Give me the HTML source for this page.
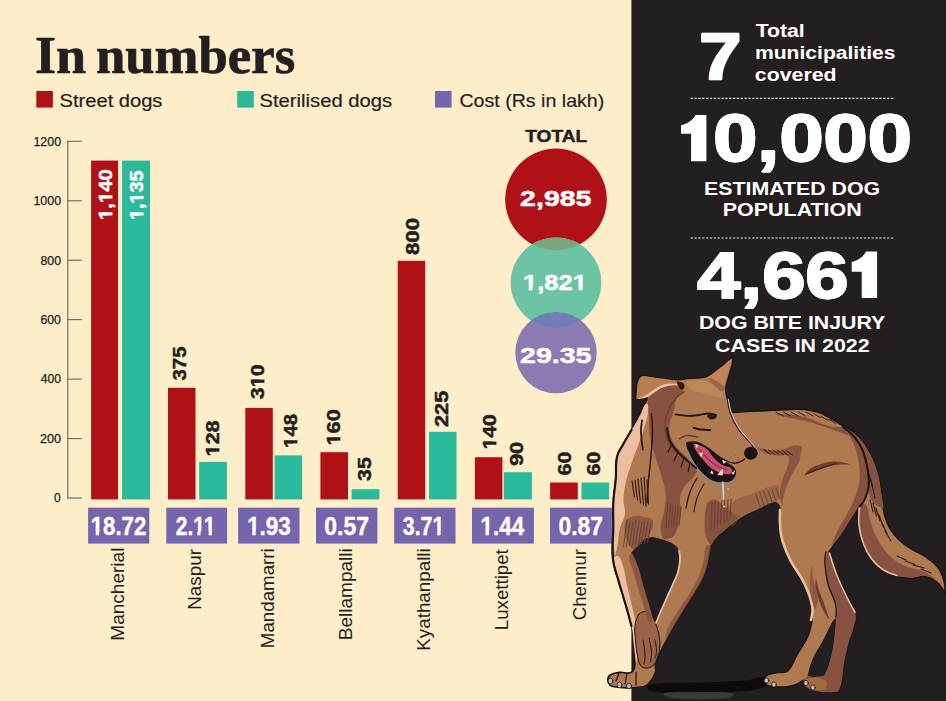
<!DOCTYPE html>
<html><head><meta charset="utf-8"><title>In numbers</title>
<style>
html,body{margin:0;padding:0;background:#feedc9;}
body{width:946px;height:701px;overflow:hidden;font-family:"Liberation Sans",sans-serif;}
svg{display:block;position:absolute;left:0;top:0;}
</style></head><body>
<svg width="946" height="701" viewBox="0 0 946 701">
<rect x="0" y="0" width="946" height="701" fill="#feedc9"/>
<rect x="631.4" y="0" width="315" height="701" fill="#231f20"/>
<text x="34.97" y="72.90" font-family='"Liberation Serif",serif' font-weight="bold" font-size="52.50" fill="#231f20" stroke="#231f20" stroke-width="0.70" stroke-linejoin="round" textLength="51.16" lengthAdjust="spacingAndGlyphs">In</text>
<text x="95.95" y="72.90" font-family='"Liberation Serif",serif' font-weight="bold" font-size="52.50" fill="#231f20" stroke="#231f20" stroke-width="0.70" stroke-linejoin="round" textLength="199.26" lengthAdjust="spacingAndGlyphs">numbers</text>
<rect x="36.3" y="91" width="16.6" height="16.6" fill="#b01117"/>
<rect x="237.2" y="91" width="16.6" height="16.6" fill="#2bb99b"/>
<rect x="435.0" y="91" width="16.6" height="16.6" fill="#7565ad"/>
<text x="59.58" y="107.40" font-family='"Liberation Sans",sans-serif' font-weight="normal" font-size="18.40" fill="#231f20" stroke="#231f20" stroke-width="0.20" stroke-linejoin="round" textLength="102.85" lengthAdjust="spacingAndGlyphs">Street dogs</text>
<text x="259.47" y="107.40" font-family='"Liberation Sans",sans-serif' font-weight="normal" font-size="18.40" fill="#231f20" stroke="#231f20" stroke-width="0.20" stroke-linejoin="round" textLength="132.72" lengthAdjust="spacingAndGlyphs">Sterilised dogs</text>
<text x="459.48" y="107.40" font-family='"Liberation Sans",sans-serif' font-weight="normal" font-size="18.40" fill="#231f20" stroke="#231f20" stroke-width="0.20" stroke-linejoin="round" textLength="144.79" lengthAdjust="spacingAndGlyphs">Cost (Rs in lakh)</text>
<path d="M67.8 140.8 V498.5" stroke="#6d6555" stroke-width="1.1" fill="none"/>
<path d="M67.3 498.0 H81.7" stroke="#6d6555" stroke-width="1.1" fill="none"/>
<text x="54.03" y="502.30" font-family='"Liberation Sans",sans-serif' font-weight="normal" font-size="12.00" fill="#231f20" stroke="#231f20" stroke-width="0.25" stroke-linejoin="round" textLength="6.67" lengthAdjust="spacingAndGlyphs">0</text>
<path d="M67.3 438.6 H81.7" stroke="#6d6555" stroke-width="1.1" fill="none"/>
<text x="40.01" y="442.85" font-family='"Liberation Sans",sans-serif' font-weight="normal" font-size="12.00" fill="#231f20" stroke="#231f20" stroke-width="0.25" stroke-linejoin="round" textLength="21.02" lengthAdjust="spacingAndGlyphs">200</text>
<path d="M67.3 379.1 H81.7" stroke="#6d6555" stroke-width="1.1" fill="none"/>
<text x="40.75" y="383.40" font-family='"Liberation Sans",sans-serif' font-weight="normal" font-size="12.00" fill="#231f20" stroke="#231f20" stroke-width="0.25" stroke-linejoin="round" textLength="20.24" lengthAdjust="spacingAndGlyphs">400</text>
<path d="M67.3 319.6 H81.7" stroke="#6d6555" stroke-width="1.1" fill="none"/>
<text x="40.45" y="323.95" font-family='"Liberation Sans",sans-serif' font-weight="normal" font-size="12.00" fill="#231f20" stroke="#231f20" stroke-width="0.25" stroke-linejoin="round" textLength="20.49" lengthAdjust="spacingAndGlyphs">600</text>
<path d="M67.3 260.2 H81.7" stroke="#6d6555" stroke-width="1.1" fill="none"/>
<text x="40.46" y="264.50" font-family='"Liberation Sans",sans-serif' font-weight="normal" font-size="12.00" fill="#231f20" stroke="#231f20" stroke-width="0.25" stroke-linejoin="round" textLength="20.58" lengthAdjust="spacingAndGlyphs">800</text>
<path d="M67.3 200.8 H81.7" stroke="#6d6555" stroke-width="1.1" fill="none"/>
<text x="33.44" y="205.05" font-family='"Liberation Sans",sans-serif' font-weight="normal" font-size="12.00" fill="#231f20" stroke="#231f20" stroke-width="0.25" stroke-linejoin="round" textLength="27.65" lengthAdjust="spacingAndGlyphs">1000</text>
<path d="M67.3 141.3 H81.7" stroke="#6d6555" stroke-width="1.1" fill="none"/>
<text x="33.44" y="145.60" font-family='"Liberation Sans",sans-serif' font-weight="normal" font-size="12.00" fill="#231f20" stroke="#231f20" stroke-width="0.25" stroke-linejoin="round" textLength="27.65" lengthAdjust="spacingAndGlyphs">1200</text>
<rect x="91.1" y="160.6" width="26.9" height="338.8" fill="#b01117"/>
<rect x="122.1" y="160.6" width="27.9" height="338.8" fill="#2bb99b"/>
<rect x="88.1" y="507.7" width="61.2" height="35.9" fill="#7565ad"/>
<rect x="168.0" y="387.8" width="27.5" height="111.6" fill="#b01117"/>
<rect x="199.2" y="461.9" width="27.7" height="37.5" fill="#2bb99b"/>
<rect x="166.3" y="507.7" width="60.8" height="35.9" fill="#7565ad"/>
<rect x="245.3" y="407.9" width="27.5" height="91.5" fill="#b01117"/>
<rect x="274.6" y="455.4" width="27.5" height="44.0" fill="#2bb99b"/>
<rect x="238.1" y="507.7" width="61.4" height="35.9" fill="#7565ad"/>
<rect x="320.4" y="452.2" width="27.6" height="47.2" fill="#b01117"/>
<rect x="351.6" y="489.2" width="27.8" height="10.2" fill="#2bb99b"/>
<rect x="316.0" y="507.7" width="61.4" height="35.9" fill="#7565ad"/>
<rect x="397.7" y="260.8" width="27.5" height="238.6" fill="#b01117"/>
<rect x="429.0" y="431.8" width="27.5" height="67.6" fill="#2bb99b"/>
<rect x="394.2" y="507.7" width="61.3" height="35.9" fill="#7565ad"/>
<rect x="474.9" y="457.2" width="27.5" height="42.2" fill="#b01117"/>
<rect x="503.9" y="472.2" width="28.0" height="27.2" fill="#2bb99b"/>
<rect x="472.0" y="507.7" width="61.9" height="35.9" fill="#7565ad"/>
<rect x="550.1" y="482.5" width="27.7" height="16.9" fill="#b01117"/>
<rect x="581.5" y="482.5" width="27.6" height="16.9" fill="#2bb99b"/>
<rect x="550.0" y="507.7" width="61.9" height="35.9" fill="#7565ad"/>
<text transform="translate(111.60 220.00) rotate(-90)" font-family='"Liberation Sans",sans-serif' font-weight="bold" font-size="18.80" fill="#ffffff" stroke="#ffffff" stroke-width="0.50" stroke-linejoin="round" textLength="50.78" lengthAdjust="spacingAndGlyphs">1,140</text>
<rect x="108.63" y="215.51" width="4.22" height="4.46" fill="#b01117"/>
<rect x="108.63" y="208.03" width="4.22" height="4.20" fill="#b01117"/>
<rect x="108.63" y="198.59" width="4.22" height="4.46" fill="#b01117"/>
<rect x="108.63" y="191.11" width="4.22" height="4.20" fill="#b01117"/>
<text transform="translate(142.80 219.94) rotate(-90)" font-family='"Liberation Sans",sans-serif' font-weight="bold" font-size="18.80" fill="#ffffff" stroke="#ffffff" stroke-width="0.50" stroke-linejoin="round" textLength="49.36" lengthAdjust="spacingAndGlyphs">1,135</text>
<rect x="139.83" y="215.59" width="4.22" height="4.36" fill="#2bb99b"/>
<rect x="139.83" y="208.27" width="4.22" height="4.11" fill="#2bb99b"/>
<rect x="139.83" y="199.14" width="4.22" height="4.36" fill="#2bb99b"/>
<rect x="139.83" y="191.82" width="4.22" height="4.11" fill="#2bb99b"/>
<text transform="translate(185.80 380.48) rotate(-90)" font-family='"Liberation Sans",sans-serif' font-weight="bold" font-size="18.80" fill="#231f20" stroke="#231f20" stroke-width="0.50" stroke-linejoin="round" textLength="33.98" lengthAdjust="spacingAndGlyphs">375</text>
<text transform="translate(219.10 456.47) rotate(-90)" font-family='"Liberation Sans",sans-serif' font-weight="bold" font-size="18.80" fill="#231f20" stroke="#231f20" stroke-width="0.50" stroke-linejoin="round" textLength="36.07" lengthAdjust="spacingAndGlyphs">128</text>
<rect x="216.13" y="451.67" width="4.22" height="4.68" fill="#feedc9"/>
<rect x="216.13" y="443.80" width="4.22" height="4.41" fill="#feedc9"/>
<text transform="translate(263.70 398.92) rotate(-90)" font-family='"Liberation Sans",sans-serif' font-weight="bold" font-size="18.80" fill="#231f20" stroke="#231f20" stroke-width="0.50" stroke-linejoin="round" textLength="34.51" lengthAdjust="spacingAndGlyphs">310</text>
<rect x="260.73" y="382.84" width="4.22" height="4.52" fill="#feedc9"/>
<rect x="260.73" y="375.24" width="4.22" height="4.26" fill="#feedc9"/>
<text transform="translate(296.60 447.93) rotate(-90)" font-family='"Liberation Sans",sans-serif' font-weight="bold" font-size="18.80" fill="#231f20" stroke="#231f20" stroke-width="0.50" stroke-linejoin="round" textLength="33.93" lengthAdjust="spacingAndGlyphs">148</text>
<rect x="293.63" y="443.43" width="4.22" height="4.47" fill="#feedc9"/>
<rect x="293.63" y="435.94" width="4.22" height="4.21" fill="#feedc9"/>
<text transform="translate(340.40 445.47) rotate(-90)" font-family='"Liberation Sans",sans-serif' font-weight="bold" font-size="18.80" fill="#231f20" stroke="#231f20" stroke-width="0.50" stroke-linejoin="round" textLength="36.17" lengthAdjust="spacingAndGlyphs">160</text>
<rect x="337.43" y="440.66" width="4.22" height="4.69" fill="#feedc9"/>
<rect x="337.43" y="432.77" width="4.22" height="4.42" fill="#feedc9"/>
<text transform="translate(370.70 480.90) rotate(-90)" font-family='"Liberation Sans",sans-serif' font-weight="bold" font-size="18.80" fill="#231f20" stroke="#231f20" stroke-width="0.50" stroke-linejoin="round" textLength="23.69" lengthAdjust="spacingAndGlyphs">35</text>
<text transform="translate(419.20 254.96) rotate(-90)" font-family='"Liberation Sans",sans-serif' font-weight="bold" font-size="18.80" fill="#231f20" stroke="#231f20" stroke-width="0.50" stroke-linejoin="round" textLength="36.96" lengthAdjust="spacingAndGlyphs">800</text>
<text transform="translate(447.80 427.01) rotate(-90)" font-family='"Liberation Sans",sans-serif' font-weight="bold" font-size="18.80" fill="#231f20" stroke="#231f20" stroke-width="0.50" stroke-linejoin="round" textLength="36.38" lengthAdjust="spacingAndGlyphs">225</text>
<text transform="translate(495.80 449.53) rotate(-90)" font-family='"Liberation Sans",sans-serif' font-weight="bold" font-size="18.80" fill="#231f20" stroke="#231f20" stroke-width="0.50" stroke-linejoin="round" textLength="35.16" lengthAdjust="spacingAndGlyphs">140</text>
<rect x="492.83" y="444.86" width="4.22" height="4.59" fill="#feedc9"/>
<rect x="492.83" y="437.15" width="4.22" height="4.32" fill="#feedc9"/>
<text transform="translate(523.30 466.08) rotate(-90)" font-family='"Liberation Sans",sans-serif' font-weight="bold" font-size="18.80" fill="#231f20" stroke="#231f20" stroke-width="0.50" stroke-linejoin="round" textLength="24.37" lengthAdjust="spacingAndGlyphs">90</text>
<text transform="translate(571.00 475.50) rotate(-90)" font-family='"Liberation Sans",sans-serif' font-weight="bold" font-size="18.80" fill="#231f20" stroke="#231f20" stroke-width="0.50" stroke-linejoin="round" textLength="23.80" lengthAdjust="spacingAndGlyphs">60</text>
<text transform="translate(599.60 475.50) rotate(-90)" font-family='"Liberation Sans",sans-serif' font-weight="bold" font-size="18.80" fill="#231f20" stroke="#231f20" stroke-width="0.50" stroke-linejoin="round" textLength="23.80" lengthAdjust="spacingAndGlyphs">60</text>
<text x="90.74" y="535.00" font-family='"Liberation Sans",sans-serif' font-weight="bold" font-size="25.30" fill="#ffffff" stroke="#ffffff" stroke-width="0.40" stroke-linejoin="round" textLength="55.59" lengthAdjust="spacingAndGlyphs">18.72</text>
<rect x="90.94" y="531.42" width="4.79" height="4.78" fill="#7565ad"/>
<rect x="99.17" y="531.42" width="4.50" height="4.78" fill="#7565ad"/>
<text x="175.79" y="535.00" font-family='"Liberation Sans",sans-serif' font-weight="bold" font-size="25.30" fill="#ffffff" stroke="#ffffff" stroke-width="0.40" stroke-linejoin="round" textLength="39.71" lengthAdjust="spacingAndGlyphs">2.11</text>
<rect x="192.89" y="531.42" width="4.48" height="4.78" fill="#7565ad"/>
<rect x="200.57" y="531.42" width="4.22" height="4.78" fill="#7565ad"/>
<rect x="204.24" y="531.42" width="4.48" height="4.78" fill="#7565ad"/>
<rect x="211.91" y="531.42" width="4.22" height="4.78" fill="#7565ad"/>
<text x="247.14" y="535.00" font-family='"Liberation Sans",sans-serif' font-weight="bold" font-size="25.30" fill="#ffffff" stroke="#ffffff" stroke-width="0.40" stroke-linejoin="round" textLength="43.72" lengthAdjust="spacingAndGlyphs">1.93</text>
<rect x="247.35" y="531.42" width="4.83" height="4.78" fill="#7565ad"/>
<rect x="255.67" y="531.42" width="4.54" height="4.78" fill="#7565ad"/>
<text x="324.26" y="535.00" font-family='"Liberation Sans",sans-serif' font-weight="bold" font-size="25.30" fill="#ffffff" stroke="#ffffff" stroke-width="0.40" stroke-linejoin="round" textLength="44.65" lengthAdjust="spacingAndGlyphs">0.57</text>
<text x="402.79" y="535.00" font-family='"Liberation Sans",sans-serif' font-weight="bold" font-size="25.30" fill="#ffffff" stroke="#ffffff" stroke-width="0.40" stroke-linejoin="round" textLength="41.62" lengthAdjust="spacingAndGlyphs">3.71</text>
<rect x="432.66" y="531.42" width="4.64" height="4.78" fill="#7565ad"/>
<rect x="440.64" y="531.42" width="4.37" height="4.78" fill="#7565ad"/>
<text x="480.43" y="535.00" font-family='"Liberation Sans",sans-serif' font-weight="bold" font-size="25.30" fill="#ffffff" stroke="#ffffff" stroke-width="0.40" stroke-linejoin="round" textLength="43.77" lengthAdjust="spacingAndGlyphs">1.44</text>
<rect x="480.65" y="531.42" width="4.83" height="4.78" fill="#7565ad"/>
<rect x="488.96" y="531.42" width="4.55" height="4.78" fill="#7565ad"/>
<text x="558.46" y="535.00" font-family='"Liberation Sans",sans-serif' font-weight="bold" font-size="25.30" fill="#ffffff" stroke="#ffffff" stroke-width="0.40" stroke-linejoin="round" textLength="44.39" lengthAdjust="spacingAndGlyphs">0.87</text>
<text transform="translate(124.00 640.71) rotate(-90)" font-family='"Liberation Sans",sans-serif' font-weight="normal" font-size="18.60" fill="#231f20" textLength="93.12" lengthAdjust="spacingAndGlyphs">Mancherial</text>
<text transform="translate(201.20 609.72) rotate(-90)" font-family='"Liberation Sans",sans-serif' font-weight="normal" font-size="18.60" fill="#231f20" textLength="60.66" lengthAdjust="spacingAndGlyphs">Naspur</text>
<text transform="translate(274.40 648.15) rotate(-90)" font-family='"Liberation Sans",sans-serif' font-weight="normal" font-size="18.60" fill="#231f20" textLength="99.88" lengthAdjust="spacingAndGlyphs">Mandamarri</text>
<text transform="translate(351.90 640.15) rotate(-90)" font-family='"Liberation Sans",sans-serif' font-weight="normal" font-size="18.60" fill="#231f20" textLength="91.82" lengthAdjust="spacingAndGlyphs">Bellampalli</text>
<text transform="translate(429.80 650.72) rotate(-90)" font-family='"Liberation Sans",sans-serif' font-weight="normal" font-size="18.60" fill="#231f20" textLength="102.44" lengthAdjust="spacingAndGlyphs">Kyathanpalli</text>
<text transform="translate(508.00 630.18) rotate(-90)" font-family='"Liberation Sans",sans-serif' font-weight="normal" font-size="18.60" fill="#231f20" textLength="80.99" lengthAdjust="spacingAndGlyphs">Luxettipet</text>
<text transform="translate(585.90 620.27) rotate(-90)" font-family='"Liberation Sans",sans-serif' font-weight="normal" font-size="18.60" fill="#231f20" textLength="71.19" lengthAdjust="spacingAndGlyphs">Chennur</text>
<text x="713.20" y="161.10" font-family='"Liberation Sans",sans-serif' font-weight="bold" font-size="66.00" fill="#ffffff" stroke="#ffffff" stroke-width="1.80" stroke-linejoin="round" textLength="198.64" lengthAdjust="spacingAndGlyphs">0,000</text>
<text x="697.36" y="297.80" font-family='"Liberation Sans",sans-serif' font-weight="bold" font-size="64.50" fill="#ffffff" stroke="#ffffff" stroke-width="1.80" stroke-linejoin="round" textLength="151.20" lengthAdjust="spacingAndGlyphs">4,66</text>
<defs><clipPath id="cg"><circle cx="556" cy="282.7" r="45.3"/></clipPath></defs>
<circle cx="556" cy="199.4" r="50.8" fill="#b01117"/>
<circle cx="556" cy="352.6" r="40.7" fill="#8c7ab2"/>
<circle cx="556" cy="282.7" r="45.3" fill="#6cc4a5"/>
<circle cx="556" cy="199.4" r="50.8" fill="#7da57d" clip-path="url(#cg)"/>
<circle cx="556" cy="352.6" r="40.7" fill="#717db4" clip-path="url(#cg)"/>
<text x="525.25" y="141.50" font-family='"Liberation Sans",sans-serif' font-weight="bold" font-size="17.40" fill="#231f20" stroke="#231f20" stroke-width="0.50" stroke-linejoin="round" textLength="62.04" lengthAdjust="spacingAndGlyphs">TOTAL</text>
<text x="520.13" y="206.00" font-family='"Liberation Sans",sans-serif' font-weight="bold" font-size="22.30" fill="#ffffff" stroke="#ffffff" stroke-width="0.50" stroke-linejoin="round" textLength="71.31" lengthAdjust="spacingAndGlyphs">2,985</text>
<text x="522.91" y="290.00" font-family='"Liberation Sans",sans-serif' font-weight="bold" font-size="22.30" fill="#ffffff" stroke="#ffffff" stroke-width="0.50" stroke-linejoin="round" textLength="64.12" lengthAdjust="spacingAndGlyphs">1,821</text>
<text x="520.13" y="363.00" font-family='"Liberation Sans",sans-serif' font-weight="bold" font-size="22.30" fill="#ffffff" stroke="#ffffff" stroke-width="0.50" stroke-linejoin="round" textLength="71.31" lengthAdjust="spacingAndGlyphs">29.35</text>
<text x="699.34" y="78.60" font-family='"Liberation Sans",sans-serif' font-weight="bold" font-size="64.50" fill="#ffffff" stroke="#ffffff" stroke-width="2.40" stroke-linejoin="round" textLength="42.10" lengthAdjust="spacingAndGlyphs">7</text>
<text x="755.68" y="36.70" font-family='"Liberation Sans",sans-serif' font-weight="bold" font-size="18.30" fill="#ffffff" textLength="49.10" lengthAdjust="spacingAndGlyphs">Total</text>
<text x="754.95" y="58.80" font-family='"Liberation Sans",sans-serif' font-weight="bold" font-size="18.30" fill="#ffffff" textLength="140.60" lengthAdjust="spacingAndGlyphs">municipalities</text>
<text x="754.89" y="81.40" font-family='"Liberation Sans",sans-serif' font-weight="bold" font-size="18.30" fill="#ffffff" textLength="81.65" lengthAdjust="spacingAndGlyphs">covered</text>
<text x="713.20" y="161.10" font-family='"Liberation Sans",sans-serif' font-weight="bold" font-size="66.00" fill="#ffffff" stroke="#ffffff" stroke-width="1.80" stroke-linejoin="round" textLength="198.64" lengthAdjust="spacingAndGlyphs">0,000</text>
<text x="704.03" y="194.50" font-family='"Liberation Sans",sans-serif' font-weight="bold" font-size="18.30" fill="#ffffff" textLength="176.21" lengthAdjust="spacingAndGlyphs">ESTIMATED DOG</text>
<text x="722.81" y="216.20" font-family='"Liberation Sans",sans-serif' font-weight="bold" font-size="18.30" fill="#ffffff" textLength="138.95" lengthAdjust="spacingAndGlyphs">POPULATION</text>
<text x="697.36" y="297.80" font-family='"Liberation Sans",sans-serif' font-weight="bold" font-size="64.50" fill="#ffffff" stroke="#ffffff" stroke-width="1.80" stroke-linejoin="round" textLength="151.20" lengthAdjust="spacingAndGlyphs">4,66</text>
<text x="698.95" y="328.90" font-family='"Liberation Sans",sans-serif' font-weight="bold" font-size="18.30" fill="#ffffff" textLength="186.35" lengthAdjust="spacingAndGlyphs">DOG BITE INJURY</text>
<text x="715.01" y="351.90" font-family='"Liberation Sans",sans-serif' font-weight="bold" font-size="18.30" fill="#ffffff" textLength="154.58" lengthAdjust="spacingAndGlyphs">CASES IN 2022</text>
<rect x="523.27" y="286.67" width="5.37" height="4.58" fill="#6cc4a5"/>
<rect x="532.66" y="286.67" width="5.04" height="4.58" fill="#6cc4a5"/>
<rect x="573.14" y="286.67" width="5.37" height="4.58" fill="#6cc4a5"/>
<rect x="582.53" y="286.67" width="5.04" height="4.58" fill="#6cc4a5"/>
<path d="M690.6 98.4 H894" stroke="#e4e4e4" stroke-width="1.1" stroke-dasharray="2.3 1.55" fill="none"/>
<path d="M690.6 238 H894" stroke="#e4e4e4" stroke-width="1.1" stroke-dasharray="2.3 1.55" fill="none"/>
<path fill="#ffffff" d="M706.4 114.9 L706.4 161.2 L691.1 161.2 L691.1 133.8 L681.0 133.8 L681.0 125.2 C687.0 124.1 693.6 119.4 695.4 114.9 Z"/>
<path fill="#ffffff" d="M877.1 251.6 L877.1 298.1 L861.7 298.1 L861.7 271.7 L851.7 271.7 L851.7 261.9 C857.7 260.8 864.2 256.1 866.0 251.6 Z"/>
<!--DOG-->
<g id="dog" stroke-linejoin="round" stroke-linecap="round">
<path d="M648.0 685.0 C664.0 682.0 678.3 683.5 700.0 682.5 C718.7 681.6 726.3 682.1 745.0 680.5 C753.8 679.8 758.0 676.5 766.0 677.0 C768.4 677.2 770.1 679.8 769.0 682.0 C767.0 685.8 764.4 687.1 760.0 688.5 C752.0 691.1 748.4 690.9 740.0 691.5 C723.4 692.6 716.7 692.5 700.0 692.5 C680.0 692.5 669.3 694.0 652.0 691.5 C648.9 691.0 644.9 685.6 648.0 685.0 Z" fill="#0d0a0a"/>
<path d="M664.0 693.0 C674.7 691.3 685.0 691.9 700.0 692.0 C713.8 692.1 723.7 691.5 733.0 693.5 C735.7 694.1 730.8 697.6 728.0 698.0 C713.7 699.8 705.8 699.3 690.0 699.0 C680.8 698.8 676.7 699.0 668.0 697.0 C665.7 696.5 661.7 693.4 664.0 693.0 Z" fill="#4a4b52" opacity="0.6"/>
<path fill="#af7a50" stroke="#1c1412" stroke-width="1.6" d="M635.7 400.0 C635.7 400.0 635.9 394.2 636.3 390.0 C636.6 386.4 636.2 384.9 637.4 381.5 C638.4 378.7 638.7 376.8 641.4 375.7 C644.7 374.3 646.4 375.9 650.0 376.3 C653.8 376.7 655.3 377.0 659.0 377.6 C662.8 378.2 664.2 378.5 668.0 379.0 C671.7 379.5 673.2 379.8 677.0 379.8 C679.9 379.8 681.1 379.3 684.0 379.0 C687.5 378.6 688.9 378.5 692.4 378.2 C695.6 378.0 696.8 378.1 700.0 377.8 C702.2 377.6 705.3 377.0 705.3 377.0 C705.3 377.0 708.7 375.5 711.0 374.2 C713.2 373.0 713.9 372.4 716.0 371.0 C718.1 369.6 719.0 369.1 721.0 367.5 C723.2 365.7 723.9 364.9 726.0 363.0 C727.7 361.5 728.4 360.9 730.0 359.3 C731.4 357.9 733.3 355.8 733.3 355.8 C733.3 355.8 733.1 358.8 732.8 361.0 C732.5 363.1 732.3 363.9 731.8 366.0 C731.1 368.7 730.8 369.8 730.0 372.5 C729.3 375.0 728.9 376.0 728.2 378.5 C727.5 380.8 727.2 381.7 726.6 384.0 C726.2 385.9 725.8 386.6 725.8 388.5 C725.8 391.2 726.1 392.3 726.5 395.0 C726.8 396.9 727.1 397.6 727.5 399.4 C728.1 402.1 728.3 403.3 729.0 406.0 C729.7 408.7 731.0 412.5 731.0 412.5 C731.0 412.5 736.3 412.2 740.0 412.0 C744.2 411.7 745.8 411.5 750.0 411.3 C756.7 411.0 759.3 411.1 766.0 410.8 C773.9 410.4 777.1 409.9 785.0 409.6 C793.1 409.3 796.4 408.8 804.5 409.5 C810.4 410.0 812.7 410.7 818.4 412.3 C821.7 413.3 823.0 414.0 826.0 415.7 C833.3 419.6 836.1 421.3 843.1 425.7 C849.2 429.6 852.3 430.5 857.4 435.6 C863.1 441.3 864.9 444.2 868.8 451.3 C873.2 459.2 874.7 462.6 877.3 471.3 C880.1 480.6 880.0 484.6 881.6 494.1 C883.0 502.4 882.2 505.9 884.4 514.0 C886.4 521.5 887.2 524.7 891.6 531.1 C896.3 538.0 899.1 540.4 905.8 545.4 C913.5 551.2 917.9 551.3 925.8 556.8 C931.7 560.9 934.4 562.4 938.6 568.2 C942.3 573.4 942.8 576.2 944.3 582.4 C945.5 587.0 945.0 593.8 945.0 593.8 C945.0 593.8 941.5 586.2 937.2 582.4 C933.2 578.9 931.0 577.6 925.8 576.7 C919.9 575.7 917.5 578.2 911.5 578.2 C905.6 578.2 903.1 578.2 897.3 576.7 C891.1 575.1 888.5 574.3 883.0 571.0 C877.6 567.7 875.5 566.0 871.6 561.0 C867.0 555.2 865.6 552.3 863.0 545.4 C859.9 537.4 859.3 533.9 858.0 525.4 C856.9 518.4 857.1 515.4 857.4 508.3 C857.5 506.2 858.8 503.5 858.8 503.5 C858.8 503.5 853.4 514.9 848.8 522.6 C844.4 530.0 842.2 532.6 837.4 539.7 C835.0 543.2 834.2 544.7 831.7 548.2 C830.7 549.6 829.0 551.5 829.0 551.5 C829.0 551.5 832.5 565.1 835.9 574.5 C839.1 583.3 840.8 586.8 845.0 595.2 C848.9 603.1 852.8 605.2 855.4 613.6 C856.8 618.2 855.4 620.4 854.3 625.0 C852.5 632.8 850.6 635.6 848.5 643.4 C846.2 651.9 845.4 655.3 843.9 664.0 C842.6 671.6 843.2 674.9 841.6 682.5 C840.8 686.5 838.2 691.7 838.2 691.7 C838.2 691.7 827.4 692.8 819.8 691.7 C813.8 690.8 810.9 690.5 806.0 687.0 C803.6 685.3 803.7 680.2 803.7 680.2 C803.7 680.2 802.3 680.9 801.4 681.4 C798.7 682.9 797.9 684.0 795.0 685.0 C791.1 686.4 789.4 686.8 785.3 687.1 C781.0 687.4 779.3 687.0 775.0 686.5 C771.6 686.1 769.6 687.0 766.9 684.8 C764.6 682.9 763.8 680.9 764.6 678.0 C765.4 675.3 767.4 675.1 770.0 674.0 C773.1 672.7 774.7 673.1 778.0 672.5 C782.0 671.8 784.6 673.8 787.6 671.0 C793.2 665.8 793.0 661.7 796.8 655.0 C802.1 645.5 806.2 642.4 809.4 632.0 C812.5 621.9 812.9 617.2 811.7 606.7 C810.5 596.6 808.0 592.9 803.7 583.7 C798.9 573.6 794.9 570.7 789.9 560.7 C785.8 552.4 784.6 548.8 781.8 540.0 C780.3 535.1 779.9 533.1 779.5 528.0 C779.1 522.6 779.8 520.4 779.9 515.0 C780.0 512.0 779.9 507.9 779.9 507.9 C779.9 507.9 777.8 502.5 774.7 502.7 C768.1 503.1 766.0 506.2 760.0 509.0 C752.2 512.6 748.8 513.7 741.4 518.1 C735.4 521.6 733.4 523.7 728.0 528.0 C722.7 532.2 715.7 538.7 715.7 538.7 C715.7 538.7 712.2 542.6 711.0 546.0 C709.1 551.6 709.9 554.2 708.5 560.0 C706.9 566.7 706.6 569.6 703.9 575.9 C700.5 583.8 698.3 586.5 693.9 593.9 C689.9 600.6 688.0 603.1 683.9 609.8 C678.8 618.1 676.7 621.3 671.9 629.8 C668.4 636.0 667.2 638.6 664.0 645.0 C662.5 648.1 661.9 649.3 660.5 652.5 C658.3 657.5 656.8 659.3 655.5 664.6 C654.7 667.8 656.8 669.4 655.5 672.4 C652.9 678.4 651.7 681.3 646.5 685.3 C643.0 688.0 640.4 686.9 636.0 687.5 C631.8 688.0 630.1 688.0 625.8 687.9 C621.7 687.8 620.0 687.7 616.0 687.0 C613.6 686.6 612.2 686.9 610.3 685.3 C608.4 683.8 607.7 682.5 607.7 680.1 C607.7 677.7 608.3 676.3 610.3 675.0 C613.6 672.8 615.5 672.9 619.4 672.4 C624.2 671.8 626.7 674.6 631.0 672.4 C634.2 670.8 634.6 668.2 634.9 664.6 C635.7 655.0 634.3 651.1 633.6 641.4 C633.2 636.0 633.4 633.8 632.3 628.5 C630.2 618.6 628.6 614.9 625.8 605.2 C622.7 594.4 621.1 590.2 618.1 579.4 C615.7 570.8 613.7 567.6 612.9 558.7 C611.7 545.5 613.2 540.2 613.3 527.0 C613.4 516.9 612.8 512.9 613.3 502.8 C613.8 492.6 615.0 488.6 615.8 478.5 C616.5 469.4 615.1 465.6 617.0 456.7 C618.2 451.2 620.3 449.5 623.0 444.6 C626.4 438.4 628.1 436.2 631.5 430.0 C633.5 426.3 634.1 424.8 636.0 421.0 C638.5 416.0 639.5 414.0 642.0 409.0 C644.2 404.6 647.5 398.5 647.5 398.5 C647.5 398.5 645.5 397.0 644.0 397.2 C640.4 397.7 635.7 400.0 635.7 400.0 Z"/>
<path fill="#231f20" stroke="#1c1412" stroke-width="1" d="M632.0 552.9 C632.0 552.9 635.9 546.3 640.0 542.9 C643.6 539.9 645.4 538.5 650.0 537.9 C655.0 537.2 657.1 538.6 662.0 540.0 C667.1 541.5 669.4 542.0 673.9 544.9 C676.2 546.3 677.0 547.4 677.9 550.0 C679.2 553.9 679.1 555.8 678.9 559.9 C678.7 565.0 678.3 567.0 676.9 571.9 C675.4 577.1 674.0 578.9 671.9 583.9 C669.0 590.5 667.8 593.2 664.9 599.8 C662.0 606.5 660.7 609.1 657.9 615.8 C656.5 619.1 654.9 623.8 654.9 623.8 C654.9 623.8 653.7 620.3 652.9 617.8 C651.2 612.0 650.6 609.6 648.9 603.8 C646.5 595.5 645.4 592.2 643.0 583.9 C640.8 576.4 640.6 573.2 638.0 565.9 C636.0 560.3 632.0 552.9 632.0 552.9 Z"/>
<path fill="#231f20" stroke="#1c1412" stroke-width="1" d="M836.0 619.0 C836.0 619.0 835.2 633.3 833.6 643.4 C832.2 652.1 831.4 655.5 829.0 664.0 C827.6 669.0 824.4 675.6 824.4 675.6 C824.4 675.6 819.0 676.8 815.0 677.0 C812.1 677.2 808.0 676.5 808.0 676.5 C808.0 676.5 810.0 666.3 812.9 659.5 C816.8 650.5 819.8 647.6 824.4 638.9 C828.4 631.3 829.7 627.1 833.6 620.5 C834.2 619.5 836.0 619.0 836.0 619.0 Z"/>
<path d="M828.0 551.0 C828.0 551.0 832.2 564.9 835.9 574.5 C839.3 583.3 840.8 586.8 845.0 595.2 C848.9 603.1 852.8 605.2 855.4 613.6 C856.8 618.2 855.4 620.4 854.3 625.0 C852.5 632.8 850.6 635.6 848.5 643.4 C846.2 651.9 845.4 655.3 843.9 664.0 C842.6 671.6 843.2 674.9 841.6 682.5 C840.8 686.5 838.2 691.7 838.2 691.7 C838.2 691.7 827.4 692.8 819.8 691.7 C813.8 690.8 810.9 690.5 806.0 687.0 C803.6 685.3 803.7 680.2 803.7 680.2 C803.7 680.2 805.7 677.1 808.0 676.5 C810.8 675.7 812.1 677.2 815.0 677.0 C819.0 676.8 824.4 675.6 824.4 675.6 C824.4 675.6 827.6 669.0 829.0 664.0 C831.4 655.5 832.2 652.1 833.6 643.4 C835.2 633.3 836.0 619.0 836.0 619.0 C836.0 619.0 838.1 611.7 837.0 606.7 C835.1 597.7 831.4 594.9 829.0 586.0 C826.5 576.6 825.8 572.7 825.5 563.0 C825.4 557.9 828.0 551.0 828.0 551.0 Z" fill="#875240"/>
<path d="M829.5 553.0 C829.5 553.0 833.1 565.7 836.5 574.5 C839.8 583.0 841.5 586.3 845.5 594.5 C849.2 602.1 855.0 612.5 855.0 612.5" fill="none" stroke="#ecbea0" stroke-width="1.6"/>
<path d="M826.0 552.0 C826.0 552.0 824.5 558.4 824.8 563.0 C825.4 571.8 825.8 575.4 828.0 584.0 C830.2 592.6 833.4 595.4 835.5 604.0 C836.8 609.3 836.0 617.0 836.0 617.0" fill="none" stroke="#1c1412" stroke-width="1.3"/>
<path d="M805.0 681.0 C805.6 677.9 808.8 678.4 812.0 678.0 C816.2 677.5 818.1 677.4 822.0 679.0 C824.7 680.1 827.0 681.1 827.0 684.0 C827.0 687.3 825.2 689.3 822.0 690.0 C817.1 691.2 814.5 690.4 810.0 688.0 C806.8 686.3 804.3 684.3 805.0 681.0 Z" fill="#a5683f"/>
<path d="M780.0 510.0 C780.0 510.0 779.6 520.5 780.2 528.0 C780.6 533.5 780.8 535.8 782.5 541.0 C785.2 549.4 786.5 552.7 790.5 560.5 C795.6 570.4 799.5 573.4 804.3 583.5 C808.6 592.5 810.4 596.2 812.2 606.0 C813.3 611.8 811.0 620.0 811.0 620.0" fill="none" stroke="#ecbea0" stroke-width="2.6"/>
<path d="M816.0 578.0 C816.0 578.0 817.4 585.1 819.0 590.0 C820.8 595.5 822.1 597.5 824.0 603.0 C826.5 610.0 829.5 620.0 829.5 620.0 C829.5 620.0 825.9 615.6 824.0 612.0 C821.5 607.2 820.8 605.1 819.0 600.0 C817.3 595.1 816.2 593.2 815.5 588.0 C814.9 583.9 816.0 578.0 816.0 578.0 Z" fill="#6b3f30"/>
<path d="M812.0 565.0 C812.0 565.0 812.4 573.8 813.5 580.0 C814.9 587.6 817.6 590.3 818.0 598.0 C818.3 603.1 815.0 610.0 815.0 610.0 C815.0 610.0 812.0 602.0 811.0 596.0 C809.9 589.4 809.8 586.7 810.0 580.0 C810.2 573.7 812.0 565.0 812.0 565.0 Z" fill="#875240" opacity="0.8"/>
<path d="M773.9 414.0 C773.9 414.0 783.3 413.7 790.0 414.5 C797.6 415.4 800.7 415.8 808.0 418.0 C816.9 420.6 819.7 423.7 828.7 426.0 C834.5 427.5 843.1 427.1 843.1 427.1 C843.1 427.1 850.5 432.2 854.5 437.1 C858.9 442.4 860.5 444.9 863.1 451.3 C865.9 458.1 866.1 461.2 867.3 468.4 C868.5 475.5 868.2 478.4 868.8 485.5 C869.1 489.0 868.8 490.5 869.5 494.0 C870.1 497.0 870.2 498.5 872.0 501.0 C873.9 503.7 875.2 504.3 878.0 506.0 C880.1 507.3 883.5 508.0 883.5 508.0 C883.5 508.0 882.8 503.3 882.3 500.0 C881.9 497.5 881.8 496.5 881.4 494.0 C879.8 484.8 880.0 480.9 877.3 472.0 C874.7 463.3 873.2 459.9 868.8 452.0 C864.9 444.9 857.4 436.3 857.4 436.3 C857.4 436.3 853.0 436.7 850.0 436.0 C844.8 434.7 843.0 433.3 838.0 431.5 C831.4 429.1 828.7 428.1 822.0 426.0 C815.0 423.8 812.2 422.8 805.0 421.0 C798.0 419.2 795.1 419.1 788.0 417.5 C782.1 416.2 773.9 414.0 773.9 414.0 Z" fill="#875240"/>
<path d="M843.1 426.4 C843.1 426.4 852.3 431.2 857.4 436.3 C863.1 442.0 864.9 444.9 868.8 452.0 C873.2 459.9 874.7 463.3 877.3 472.0 C880.0 480.9 879.8 484.8 881.4 494.0 C882.4 499.8 883.5 508.0 883.5 508.0 C883.5 508.0 880.1 507.3 878.0 506.0 C875.2 504.3 873.9 503.7 872.0 501.0 C870.2 498.5 870.1 497.0 869.5 494.0 C868.8 490.5 869.1 489.0 868.8 485.5 C868.2 478.4 868.5 475.5 867.3 468.4 C866.1 461.2 865.9 458.1 863.1 451.3 C860.5 444.9 858.8 442.5 854.5 437.1 C850.4 432.0 843.1 426.4 843.1 426.4 Z" fill="#875240"/>
<path d="M859.0 505.0 C859.0 505.0 857.3 516.9 858.2 525.4 C859.1 534.0 860.3 537.4 863.4 545.4 C866.1 552.2 867.5 554.9 872.0 560.6 C875.9 565.5 878.0 567.2 883.3 570.4 C888.7 573.7 891.2 574.5 897.3 576.0 C903.1 577.4 905.6 577.4 911.5 577.4 C917.5 577.4 919.9 575.0 925.8 576.0 C931.1 576.9 933.2 578.3 937.2 581.8 C941.3 585.4 944.6 592.5 944.6 592.5 C944.6 592.5 940.6 584.4 936.0 580.0 C931.0 575.2 928.3 573.9 922.0 571.0 C915.3 568.0 911.7 569.1 905.0 566.0 C898.2 562.8 895.4 561.2 890.0 556.0 C884.0 550.2 882.0 547.3 878.0 540.0 C873.6 532.2 872.9 528.5 870.0 520.0 C867.9 513.9 869.7 510.0 866.0 505.0 C864.3 502.6 859.0 505.0 859.0 505.0 Z" fill="#875240"/>
<path d="M859.8 506.0 C859.8 506.0 858.2 517.1 859.0 525.0 C859.9 533.5 860.9 537.0 864.0 545.0 C866.6 551.7 868.1 554.3 872.5 560.0 C876.3 564.9 878.3 566.7 883.5 570.0 C888.6 573.2 897.0 575.5 897.0 575.5" fill="none" stroke="#ecbea0" stroke-width="1.5"/>
<path d="M804.3 475.5 C804.3 475.5 807.0 471.1 810.0 469.0 C813.7 466.4 815.6 465.8 820.0 464.5 C826.1 462.7 828.6 461.5 835.0 461.5 C841.6 461.5 850.5 464.5 850.5 464.5 C850.5 464.5 842.0 464.2 836.0 465.0 C830.0 465.8 827.7 466.7 822.0 468.5 C817.7 469.8 816.2 470.8 812.0 472.5 C808.8 473.8 804.3 475.5 804.3 475.5 Z" fill="#6b3f30"/>
<path d="M757.7 447.3 C757.7 447.3 763.6 449.3 768.0 450.0 C771.8 450.6 773.4 450.8 777.3 450.5 C781.0 450.2 782.4 449.6 786.0 448.5 C789.6 447.4 790.7 445.7 794.4 445.3 C797.7 445.0 802.3 446.8 802.3 446.8 C802.3 446.8 801.2 451.6 800.5 455.0 C800.0 457.5 800.5 458.6 799.6 461.0 C798.2 464.6 796.9 465.6 795.0 469.0 C793.3 472.1 792.6 473.3 791.0 476.4 C789.4 479.5 788.8 480.8 787.5 484.0 C786.3 487.2 786.0 488.5 785.0 491.8 C784.1 494.8 783.6 495.9 783.0 499.0 C782.5 501.7 782.5 505.5 782.5 505.5 C782.5 505.5 780.4 501.3 780.0 498.0 C779.5 493.9 779.9 492.1 780.5 488.0 C781.1 483.8 781.7 482.1 783.0 478.0 C784.4 473.7 785.6 472.3 787.0 468.0 C788.1 464.7 789.0 463.4 789.0 460.0 C789.0 457.9 788.8 456.4 787.0 455.5 C784.4 454.2 782.9 455.7 780.0 455.5 C775.8 455.3 774.1 455.5 770.0 454.5 C765.6 453.4 763.9 452.8 760.0 450.5 C758.6 449.7 757.7 447.3 757.7 447.3 Z" fill="#875240" opacity="0.9"/>
<path d="M726.0 508.0 C726.0 508.0 732.4 501.6 738.0 498.5 C742.2 496.1 744.5 496.7 749.0 495.0 C756.6 492.1 759.3 490.2 767.0 487.5 C771.7 485.9 778.6 484.7 778.6 484.7 C778.6 484.7 780.2 492.6 779.0 498.0 C778.5 500.4 774.7 502.2 774.7 502.2 C774.7 502.2 766.0 505.7 760.0 508.5 C752.2 512.1 748.9 513.3 741.4 517.6 C736.4 520.4 734.9 528.6 730.0 525.5 C724.9 522.3 726.0 508.0 726.0 508.0 Z" fill="#875240" opacity="0.5"/>
<path d="M859.0 506.0 C859.0 506.0 863.1 502.9 864.5 499.8 C867.0 494.2 867.8 491.6 868.3 485.5 C868.8 478.4 868.0 475.5 866.8 468.4 C865.6 461.2 865.4 458.1 862.6 451.3 C860.0 445.0 858.2 442.8 854.0 437.5 C851.2 433.9 846.0 430.0 846.0 430.0 C846.0 430.0 851.4 438.4 854.0 445.0 C856.7 451.8 857.4 454.8 858.5 462.0 C859.7 469.4 860.2 472.5 859.5 480.0 C858.8 487.3 857.5 490.1 855.0 497.0 C852.3 504.3 850.6 507.0 847.0 514.0 C843.5 520.8 841.4 523.2 838.0 530.0 C834.7 536.5 831.0 546.0 831.0 546.0 C831.0 546.0 835.5 542.3 838.0 539.0 C843.1 532.3 844.5 529.1 849.0 522.0 C853.2 515.4 859.0 506.0 859.0 506.0 Z" fill="#875240"/>
<path d="M843.1 427.1 C843.1 427.1 850.5 432.2 854.5 437.1 C858.9 442.4 860.5 444.9 863.1 451.3 C865.9 458.1 866.1 461.2 867.3 468.4 C868.5 475.5 869.4 478.4 868.8 485.5 C868.2 491.7 867.0 494.1 864.5 499.8 C863.1 503.0 859.6 506.5 859.6 506.5" fill="none" stroke="#1c1412" stroke-width="2.0"/>
<path d="M647.5 399.0 C647.5 399.0 651.8 393.0 656.0 390.0 C659.7 387.3 661.5 386.4 666.0 385.5 C670.5 384.6 672.7 384.5 677.0 386.0 C680.8 387.3 684.7 392.0 684.7 392.0 C684.7 392.0 679.1 394.5 677.0 398.0 C674.6 402.0 675.7 404.5 674.5 409.0 C672.5 416.5 669.9 419.2 669.3 427.0 C668.9 432.5 670.1 434.8 672.0 440.0 C673.3 443.6 674.5 444.7 677.0 447.6 C680.9 452.2 683.4 453.3 687.3 457.9 C691.7 463.2 697.0 471.3 697.0 471.3 C697.0 471.3 694.5 475.7 692.2 478.5 C689.5 481.8 687.3 482.2 685.0 485.8 C682.1 490.5 680.8 492.6 680.0 498.0 C679.2 504.0 681.8 506.5 681.3 512.5 C680.8 518.7 679.8 521.1 677.7 527.0 C676.2 531.3 676.3 533.9 672.8 536.8 C669.6 539.5 663.0 539.2 663.0 539.2 C663.0 539.2 660.5 532.2 660.7 527.0 C661.0 519.8 663.3 517.2 664.3 510.0 C665.3 503.0 666.2 500.1 665.5 493.0 C664.7 484.8 662.9 481.7 660.7 473.7 C658.4 465.5 656.9 462.5 654.6 454.3 C652.5 446.7 651.1 443.8 650.0 436.0 C648.7 427.0 649.4 423.3 648.8 414.2 C648.4 407.9 647.5 399.0 647.5 399.0 Z" fill="#875240"/>
<path d="M706.8 503.5 C706.8 503.5 710.7 498.7 714.0 499.5 C720.0 500.9 721.0 504.4 726.0 508.0 C731.4 511.9 739.0 517.5 739.0 517.5 C739.0 517.5 732.6 523.4 728.0 527.5 C723.0 532.0 720.6 533.3 716.0 538.2 C713.5 540.9 711.0 545.5 711.0 545.5 C711.0 545.5 707.4 541.5 706.5 538.0 C704.6 530.7 704.4 527.5 704.5 520.0 C704.6 513.1 706.8 503.5 706.8 503.5 Z" fill="#875240"/>
<path d="M626.0 520.0 C626.0 520.0 630.3 516.6 634.0 516.0 C638.5 515.3 640.5 515.8 645.0 517.0 C648.6 517.9 651.9 517.4 653.0 521.0 C654.5 525.9 652.3 528.4 650.0 533.0 C648.0 537.0 646.0 537.7 643.0 541.0 C639.3 545.0 634.0 550.5 634.0 550.5 C634.0 550.5 629.8 546.6 628.0 543.0 C625.7 538.3 625.0 536.2 624.5 531.0 C624.1 526.4 626.0 520.0 626.0 520.0 Z" fill="#875240" opacity="0.8"/>
<path d="M631.5 430.0 C631.5 430.0 636.7 422.0 640.0 416.0 C642.7 411.1 643.3 405.3 646.0 404.0 C648.7 402.7 648.3 408.6 648.0 412.0 C647.4 418.8 645.9 421.4 644.0 428.0 C641.8 435.6 640.6 438.5 638.0 446.0 C635.6 452.7 634.3 455.2 632.0 462.0 C629.2 470.3 627.9 473.5 626.0 482.0 C624.3 489.4 623.7 492.4 623.5 500.0 C623.3 505.9 625.7 508.2 625.0 514.0 C624.2 520.1 621.5 522.0 620.0 528.0 C618.3 535.0 618.8 538.0 617.5 545.0 C616.7 549.6 615.0 556.0 615.0 556.0 C615.0 556.0 613.9 546.7 613.6 540.0 C613.3 531.7 613.6 528.3 613.6 520.0 C613.6 512.8 613.2 510.0 613.6 502.8 C614.2 492.6 615.2 488.6 616.0 478.5 C616.7 469.4 615.4 465.6 617.3 456.7 C618.5 451.3 620.6 449.7 623.2 444.8 C626.5 438.6 631.5 430.0 631.5 430.0 Z" fill="#ecbea0"/>
<path d="M613.2 558.7 C613.2 558.7 616.2 554.6 618.0 556.0 C621.3 558.4 621.6 561.6 623.0 566.0 C625.4 573.7 625.2 577.1 627.0 585.0 C629.0 593.8 630.0 597.2 632.0 606.0 C634.1 615.2 635.3 618.7 637.0 628.0 C638.3 635.0 639.2 637.9 639.0 645.0 C638.8 653.0 636.0 664.0 636.0 664.0 C636.0 664.0 635.2 657.0 634.6 652.0 C634.1 647.4 633.9 645.6 633.4 641.0 C632.8 635.8 633.1 633.6 632.0 628.5 C629.9 618.7 628.4 614.9 625.6 605.2 C622.5 594.4 620.9 590.2 618.0 579.4 C615.7 570.8 613.2 558.7 613.2 558.7 Z" fill="#ecbea0"/>
<path d="M638.7 614.3 C638.7 614.3 642.1 611.3 645.0 611.5 C647.9 611.7 649.0 612.9 651.0 615.0 C653.6 617.8 654.2 619.4 655.5 623.0 C657.7 629.1 658.4 631.6 659.4 638.0 C660.1 642.5 660.2 644.5 659.6 649.0 C659.0 653.7 658.3 655.6 656.5 660.0 C655.5 662.5 655.1 663.8 653.0 665.5 C650.9 667.2 649.7 667.9 647.0 668.0 C644.4 668.1 642.6 668.1 641.0 666.0 C638.3 662.5 638.4 660.3 637.5 656.0 C636.1 649.4 636.0 646.7 635.5 640.0 C635.0 633.8 634.2 631.2 635.0 625.0 C635.6 620.3 638.7 614.3 638.7 614.3 Z" fill="#9a6347" stroke="#1c1412" stroke-width="1"/>
<path d="M643.0 640.0 C643.0 640.0 644.7 648.7 645.0 655.0 C645.2 658.8 644.0 664.0 644.0 664.0" fill="none" stroke="#1c1412" stroke-width="1.0"/>
<path d="M649.0 638.0 C649.0 638.0 651.1 646.1 651.5 652.0 C651.8 656.2 650.5 662.0 650.5 662.0" fill="none" stroke="#1c1412" stroke-width="1.0"/>
<path d="M655.0 640.0 C655.0 640.0 656.4 645.8 656.5 650.0 C656.6 653.4 655.5 658.0 655.5 658.0" fill="none" stroke="#1c1412" stroke-width="1.0"/>
<path d="M711.0 546.0 C711.0 546.0 709.9 554.2 708.5 560.0 C706.9 566.7 706.6 569.6 703.9 575.9 C700.5 583.8 698.3 586.5 693.9 593.9 C689.9 600.6 688.0 603.1 683.9 609.8 C678.8 618.1 676.7 621.4 671.9 629.8 C668.8 635.2 665.0 643.0 665.0 643.0 C665.0 643.0 665.5 633.9 668.0 628.0 C671.6 619.5 674.6 616.9 679.5 609.0 C683.4 602.7 685.2 600.4 689.0 594.0 C693.1 587.0 695.2 584.4 698.5 577.0 C701.3 570.6 701.9 567.8 703.5 561.0 C705.0 554.8 703.5 551.0 706.0 546.0 C706.9 544.1 711.0 546.0 711.0 546.0 Z" fill="#875240" opacity="0.8"/>
<path d="M632.0 553.0 C632.0 553.0 636.0 560.3 638.0 565.9 C640.6 573.2 640.8 576.4 643.0 583.9 C645.4 592.2 646.5 595.5 648.9 603.8 C650.6 609.6 652.9 617.8 652.9 617.8 C652.9 617.8 650.5 623.8 649.0 622.0 C646.0 618.4 646.0 613.3 644.0 607.0 C641.4 599.1 640.4 596.0 638.0 588.0 C635.8 580.5 635.2 577.5 633.0 570.0 C631.4 564.6 629.3 562.7 629.0 557.0 C628.9 554.9 632.0 553.0 632.0 553.0 Z" fill="#875240" opacity="0.85"/>
<path d="M679.3 551.0 C679.3 551.0 680.2 556.2 680.0 560.0 C679.7 565.1 679.4 567.1 678.0 572.0 C676.5 577.2 675.2 579.0 673.0 584.0 C670.2 590.5 668.9 593.0 666.0 599.5 C663.0 606.1 661.8 608.8 659.0 615.5 C657.7 618.6 656.0 623.0 656.0 623.0" fill="none" stroke="#ecbea0" stroke-width="1.8"/>
<path d="M619.0 673.0 C619.0 673.0 616.0 681.0 616.0 681.0" fill="none" stroke="#1c1412" stroke-width="1.2"/>
<path d="M627.0 673.0 C627.0 673.0 625.0 684.0 625.0 684.0" fill="none" stroke="#1c1412" stroke-width="1.2"/>
<path d="M636.0 672.0 C636.0 672.0 636.0 685.0 636.0 685.0" fill="none" stroke="#1c1412" stroke-width="1.2"/>
<ellipse cx="610.5" cy="681.0" rx="2.4" ry="2.8" fill="#b9bdc6" stroke="#1c1412" stroke-width="0.8"/>
<ellipse cx="619.5" cy="685.0" rx="2.4" ry="2.8" fill="#b9bdc6" stroke="#1c1412" stroke-width="0.8"/>
<ellipse cx="629.0" cy="686.0" rx="2.4" ry="2.8" fill="#b9bdc6" stroke="#1c1412" stroke-width="0.8"/>
<ellipse cx="766.5" cy="680.5" rx="2.3" ry="2.6" fill="#b9bdc6" stroke="#1c1412" stroke-width="0.8"/>
<ellipse cx="774.0" cy="684.5" rx="2.3" ry="2.6" fill="#b9bdc6" stroke="#1c1412" stroke-width="0.8"/>
<ellipse cx="806.0" cy="683.0" rx="2.3" ry="2.6" fill="#b9bdc6" stroke="#1c1412" stroke-width="0.8"/>
<ellipse cx="813.0" cy="687.5" rx="2.3" ry="2.6" fill="#b9bdc6" stroke="#1c1412" stroke-width="0.8"/>
<path d="M627.0 520.0 C627.0 520.0 623.5 547.0 623.5 547.0" fill="none" stroke="#6b3f30" stroke-width="1.0"/>
<path d="M630.0 521.0 C630.0 521.0 626.5 546.4 626.5 546.4" fill="none" stroke="#6b3f30" stroke-width="1.0"/>
<path d="M633.0 522.0 C633.0 522.0 629.5 545.8 629.5 545.8" fill="none" stroke="#6b3f30" stroke-width="1.0"/>
<path d="M636.0 520.0 C636.0 520.0 632.5 545.2 632.5 545.2" fill="none" stroke="#6b3f30" stroke-width="1.0"/>
<path d="M639.0 521.0 C639.0 521.0 635.5 544.6 635.5 544.6" fill="none" stroke="#6b3f30" stroke-width="1.0"/>
<path d="M642.0 522.0 C642.0 522.0 638.5 544.0 638.5 544.0" fill="none" stroke="#6b3f30" stroke-width="1.0"/>
<path d="M645.0 520.0 C645.0 520.0 641.5 543.4 641.5 543.4" fill="none" stroke="#6b3f30" stroke-width="1.0"/>
<path d="M648.0 521.0 C648.0 521.0 644.5 542.8 644.5 542.8" fill="none" stroke="#6b3f30" stroke-width="1.0"/>
<path d="M651.0 522.0 C651.0 522.0 647.5 542.2 647.5 542.2" fill="none" stroke="#6b3f30" stroke-width="1.0"/>
<path d="M668.0 503.0 C668.0 503.0 666.0 528.0 666.0 528.0" fill="none" stroke="#6b3f30" stroke-width="1.0"/>
<path d="M670.6 503.8 C670.6 503.8 668.6 527.5 668.6 527.5" fill="none" stroke="#6b3f30" stroke-width="1.0"/>
<path d="M673.2 504.6 C673.2 504.6 671.2 527.0 671.2 527.0" fill="none" stroke="#6b3f30" stroke-width="1.0"/>
<path d="M675.8 505.4 C675.8 505.4 673.8 526.5 673.8 526.5" fill="none" stroke="#6b3f30" stroke-width="1.0"/>
<path d="M678.4 506.2 C678.4 506.2 676.4 526.0 676.4 526.0" fill="none" stroke="#6b3f30" stroke-width="1.0"/>
<path d="M681.0 507.0 C681.0 507.0 679.0 525.5 679.0 525.5" fill="none" stroke="#6b3f30" stroke-width="1.0"/>
<path d="M712.0 503.0 C712.0 503.0 711.0 531.0 711.0 531.0" fill="none" stroke="#6b3f30" stroke-width="1.0"/>
<path d="M715.2 502.3 C715.2 502.3 714.2 528.8 714.2 528.8" fill="none" stroke="#6b3f30" stroke-width="1.0"/>
<path d="M718.4 501.6 C718.4 501.6 717.4 526.6 717.4 526.6" fill="none" stroke="#6b3f30" stroke-width="1.0"/>
<path d="M721.6 500.9 C721.6 500.9 720.6 524.4 720.6 524.4" fill="none" stroke="#6b3f30" stroke-width="1.0"/>
<path d="M724.8 500.2 C724.8 500.2 723.8 522.2 723.8 522.2" fill="none" stroke="#6b3f30" stroke-width="1.0"/>
<path d="M728.0 499.5 C728.0 499.5 727.0 520.0 727.0 520.0" fill="none" stroke="#6b3f30" stroke-width="1.0"/>
<path d="M731.2 498.8 C731.2 498.8 730.2 517.8 730.2 517.8" fill="none" stroke="#6b3f30" stroke-width="1.0"/>
<path d="M686.0 381.5 C686.0 381.5 694.2 379.5 700.0 380.0 C704.8 380.4 706.7 381.3 711.0 383.5 C715.6 385.9 717.5 387.1 721.0 391.0 C723.1 393.4 724.0 398.0 724.0 398.0 C724.0 398.0 719.3 397.8 716.0 397.0 C710.9 395.7 709.1 394.4 704.0 393.0 C699.1 391.7 696.3 393.2 692.0 390.5 C688.2 388.1 686.0 381.5 686.0 381.5 Z" fill="#bd8659"/>
<path d="M709.0 379.0 C709.0 379.0 713.1 373.7 717.0 374.0 C720.8 374.3 722.2 376.6 724.0 380.0 C725.8 383.3 726.3 385.5 725.0 389.0 C724.2 391.1 720.0 391.0 720.0 391.0 C720.0 391.0 716.4 387.6 714.0 385.0 C711.8 382.6 709.0 379.0 709.0 379.0 Z" fill="#875240" opacity="0.55"/>
<path d="M636.6 399.0 C636.6 399.0 636.8 393.2 637.2 389.0 C637.5 386.1 637.2 384.8 638.3 382.0 C639.3 379.5 639.4 377.6 642.0 376.6 C645.5 375.3 647.3 376.8 651.0 377.2 C655.6 377.7 657.4 378.0 662.0 378.6 C666.2 379.2 667.9 379.3 672.0 380.0 C674.9 380.5 676.4 380.1 679.0 381.5 C680.5 382.3 681.0 385.0 681.0 385.0 C681.0 385.0 675.8 383.7 672.0 383.8 C667.8 383.9 666.0 384.1 662.0 385.5 C658.4 386.7 657.2 388.0 654.0 390.0 C650.6 392.1 649.6 393.6 646.0 395.5 C642.3 397.4 636.6 399.0 636.6 399.0 Z" fill="#bb7b50"/>
<path d="M636.6 399.0 C636.6 399.0 642.3 397.0 646.0 395.0 C649.6 393.1 650.6 391.6 654.0 389.5 C657.2 387.5 658.4 386.2 662.0 385.0 C666.0 383.7 667.8 383.5 672.0 383.5 C675.4 383.5 680.0 384.3 680.0 385.0 C680.0 385.7 675.3 385.0 672.0 385.5 C668.2 386.1 666.6 386.1 663.0 387.5 C659.4 388.9 658.3 390.0 655.0 392.0 C651.6 394.1 650.7 395.8 647.0 397.2 C642.9 398.8 636.6 399.0 636.6 399.0 Z" fill="#ecbea0"/>
<path d="M677.0 381.5 C677.0 381.5 680.2 381.4 682.0 382.5 C683.5 383.4 684.5 384.2 684.5 386.0 C684.5 387.8 683.8 389.4 682.0 389.5 C680.1 389.7 679.5 388.1 678.5 386.5 C677.3 384.7 677.0 381.5 677.0 381.5 Z" fill="#2a1a14"/>
<path d="M708.0 377.0 C708.0 377.0 712.7 373.5 716.0 371.0 C719.3 368.5 720.6 367.5 724.0 365.0 C726.9 362.9 729.3 359.0 731.0 360.0 C732.7 361.0 729.9 364.7 729.0 368.0 C727.8 372.2 727.1 373.8 726.0 378.0 C725.0 381.7 724.0 387.0 724.0 387.0 C724.0 387.0 720.8 383.7 718.0 382.0 C714.0 379.5 708.0 377.0 708.0 377.0 Z" fill="#c28457"/>
<path d="M727.8 400.0 C727.8 400.0 728.8 408.1 730.8 413.5 C733.4 420.3 734.8 422.9 738.7 429.0 C742.0 434.0 744.2 435.4 748.0 440.0 C750.4 442.9 753.5 447.0 753.5 447.0" fill="none" stroke="#ecbea0" stroke-width="2.4"/>
<path d="M727.2 399.4 C727.2 399.4 728.2 407.9 730.3 413.5 C732.8 420.4 734.2 423.1 738.2 429.2 C741.5 434.3 743.7 435.6 747.6 440.2 C750.1 443.1 753.5 447.2 753.5 447.2" fill="none" stroke="#1c1412" stroke-width="1.2"/>
<path d="M744.5 451.0 C745.4 449.1 746.1 448.3 748.0 447.5 C750.1 446.6 751.4 446.3 753.5 447.2 C755.7 448.1 756.6 449.2 757.3 451.5 C757.9 453.5 757.7 454.7 756.5 456.5 C755.3 458.4 754.2 459.0 752.0 459.5 C749.9 459.9 748.8 459.6 747.0 458.5 C745.5 457.6 745.1 456.7 744.5 455.0 C744.0 453.4 743.8 452.5 744.5 451.0 Z" fill="#1a1416"/>
<path d="M685.9 443.4 C685.9 443.4 691.9 441.6 696.1 442.4 C701.0 443.3 702.8 444.7 707.1 447.3 C712.7 450.7 714.4 452.8 719.6 456.7 C722.2 458.7 723.4 459.3 725.9 461.4 C729.9 464.7 732.9 464.9 735.3 469.5 C736.9 472.5 736.0 474.5 734.5 477.5 C733.2 480.1 731.9 481.3 729.0 481.8 C722.5 482.9 719.5 483.0 713.3 481.0 C708.0 479.3 706.4 477.1 702.4 473.2 C698.2 469.2 696.9 467.1 693.7 462.2 C690.9 457.9 690.2 455.9 688.2 451.2 C686.9 448.1 685.9 443.4 685.9 443.4 Z" fill="#1d1113"/>
<path d="M693.7 443.8 C693.7 443.8 701.2 445.1 705.5 448.1 C710.4 451.6 710.6 454.8 714.9 459.0 C717.9 462.0 719.2 463.2 722.8 465.3 C726.1 467.2 728.7 465.9 731.4 468.5 C732.8 469.9 732.7 472.2 731.0 473.2 C728.1 474.8 726.1 474.2 722.8 473.4 C717.9 472.2 715.9 471.4 711.8 468.5 C707.3 465.3 706.1 463.2 702.4 459.0 C699.2 455.3 697.7 453.9 695.3 449.6 C694.1 447.4 693.7 443.8 693.7 443.8 Z" fill="#c9506f"/>
<path d="M699.0 449.0 C699.0 449.0 703.9 455.2 708.0 459.0 C711.8 462.5 713.5 463.9 718.0 466.5 C721.5 468.5 727.0 470.0 727.0 470.0" fill="none" stroke="#8e2f4c" stroke-width="1.2"/>
<path d="M695.3 444.2 L698.6 445.0 L696.6 448.0 Z" fill="#f3e3c0"/>
<path d="M699.2 452.8 L703.2 452.8 L701.1 457.5 Z" fill="#f3e3c0"/>
<path d="M722.0 459.8 L726.7 461.4 L723.5 463.8 Z" fill="#f3e3c0"/>
<path d="M717.3 474.7 L722.8 468.5 L722.8 475.5 Z" fill="#f3e3c0"/>
<path d="M731.4 473.2 L735.3 470.0 L733.7 474.7 Z" fill="#f3e3c0"/>
<path d="M710.0 473.0 L712.0 470.0 L713.5 474.5 Z" fill="#f3e3c0"/>
<path d="M686.7 442.8 C686.7 442.8 692.2 441.3 696.0 442.2 C701.0 443.4 702.7 444.9 707.0 447.6 C711.9 450.6 713.3 452.6 718.0 455.9 C721.2 458.1 722.4 459.1 725.9 460.6 C729.6 462.2 731.3 463.5 735.3 463.2 C739.6 462.8 744.7 459.0 744.7 459.0" fill="none" stroke="#1c1412" stroke-width="1.3"/>
<path d="M688.0 451.5 C688.0 451.5 690.7 458.2 693.5 462.5 C696.6 467.4 697.9 469.5 702.0 473.5 C706.1 477.5 707.6 479.7 713.0 481.5 C719.3 483.6 722.4 483.6 729.0 482.6 C732.1 482.1 735.0 478.0 735.0 478.0" fill="none" stroke="#6d89a5" stroke-width="1.2"/>
<path d="M722.8 482.0 C722.8 482.0 723.1 486.7 723.2 490.0 C723.4 493.7 723.5 499.0 723.5 499.0" fill="none" stroke="#d7dde6" stroke-width="1.5"/>
<circle cx="724" cy="506.5" r="1" fill="#d7dde6"/>
<circle cx="728" cy="489" r="0.8" fill="#d7dde6"/>
<path d="M675.7 414.3 C675.7 414.3 682.8 415.6 688.0 415.8 C692.6 415.9 694.4 415.5 699.0 415.0 C702.8 414.6 704.2 413.5 708.0 413.5 C711.6 413.5 716.5 415.0 716.5 415.0" fill="none" stroke="#1c1412" stroke-width="1.8"/>
<path d="M707.5 415.0 C708.5 413.5 710.1 414.0 712.0 414.2 C714.0 414.4 715.8 414.4 716.5 416.0 C717.1 417.5 715.5 418.5 714.0 419.0 C712.0 419.7 710.8 419.7 709.0 418.6 C707.6 417.7 706.6 416.3 707.5 415.0 Z" fill="#2a1a16"/>
<path d="M693.7 427.7 C693.7 427.7 697.9 429.2 701.0 429.6 C704.8 430.1 710.2 430.0 710.2 430.0" fill="none" stroke="#1c1412" stroke-width="2.0"/>
<path d="M679.6 438.6 C679.6 438.6 683.5 435.8 686.7 435.5 C691.3 435.1 697.7 437.0 697.7 437.0" fill="none" stroke="#6b3f30" stroke-width="1.6"/>
<circle cx="731.0" cy="457.0" r="0.6" fill="#6b3f30"/>
<circle cx="735.0" cy="455.0" r="0.6" fill="#6b3f30"/>
<circle cx="738.0" cy="458.0" r="0.6" fill="#6b3f30"/>
<circle cx="733.0" cy="461.0" r="0.6" fill="#6b3f30"/>
<path d="M684.0 392.0 C684.0 392.0 678.8 394.9 676.0 398.0 C672.4 402.1 671.1 404.0 669.0 409.0 C666.5 415.0 665.2 417.5 665.0 424.0 C664.8 430.8 665.7 433.6 668.0 440.0 C669.9 445.5 675.0 452.0 675.0 452.0" fill="none" stroke="#6b3f30" stroke-width="1.2"/>
<path d="M642.0 420.5 C642.0 420.5 640.9 427.2 641.0 432.0 C641.2 439.4 642.8 449.6 642.8 449.6" fill="none" stroke="#2a1a14" stroke-width="1.8"/>
<path d="M651.3 413.7 C651.3 413.7 652.5 423.2 652.5 430.0 C652.4 440.9 651.9 445.2 651.0 456.0 C650.2 466.0 649.4 470.0 648.5 480.0 C647.7 489.4 647.0 502.7 647.0 502.7" fill="none" stroke="#2a1a14" stroke-width="1.5"/>
<path d="M632.0 481.0 C632.0 481.0 634.5 497.0 634.5 497.0" fill="none" stroke="#2a1a14" stroke-width="1.1"/>
<path d="M635.0 480.0 C635.0 480.0 637.5 500.0 637.5 500.0" fill="none" stroke="#2a1a14" stroke-width="1.1"/>
<path d="M638.0 479.0 C638.0 479.0 640.5 503.0 640.5 503.0" fill="none" stroke="#2a1a14" stroke-width="1.1"/>
<path d="M641.0 478.0 C641.0 478.0 643.5 505.0 643.5 505.0" fill="none" stroke="#2a1a14" stroke-width="1.1"/>
<path d="M644.0 477.0 C644.0 477.0 646.0 506.0 646.0 506.0" fill="none" stroke="#2a1a14" stroke-width="1.1"/>
<path d="M647.0 480.0 C647.0 480.0 648.5 504.0 648.5 504.0" fill="none" stroke="#2a1a14" stroke-width="1.1"/>
<path d="M667.0 428.0 C667.0 428.0 667.6 435.3 669.5 440.0 C671.4 444.6 672.8 446.2 676.0 450.0 C679.7 454.4 681.7 455.7 686.0 459.5 C690.1 463.2 696.0 468.0 696.0 468.0" fill="none" stroke="#2a1a14" stroke-width="2.2"/>
<path d="M672.0 444.0 C672.0 444.0 668.0 452.0 668.0 452.0" fill="none" stroke="#2a1a14" stroke-width="1.2"/>
<path d="M678.0 452.0 C678.0 452.0 674.0 461.0 674.0 461.0" fill="none" stroke="#2a1a14" stroke-width="1.2"/>
<path d="M684.0 458.0 C684.0 458.0 681.0 467.0 681.0 467.0" fill="none" stroke="#2a1a14" stroke-width="1.2"/>
<path d="M690.0 463.0 C690.0 463.0 688.0 472.0 688.0 472.0" fill="none" stroke="#2a1a14" stroke-width="1.2"/>
<path d="M697.0 478.0 C697.0 478.0 692.2 485.9 690.0 492.0 C687.6 498.5 686.0 508.0 686.0 508.0" fill="none" stroke="#2a1a14" stroke-width="1.3"/>
<path d="M704.0 484.0 C704.0 484.0 699.2 491.9 697.0 498.0 C695.0 503.6 694.0 512.0 694.0 512.0" fill="none" stroke="#2a1a14" stroke-width="1.1"/>
<path d="M631.5 430.0 C631.5 430.0 626.4 438.4 623.0 444.6 C620.3 449.5 618.2 451.2 617.0 456.7 C615.1 465.6 616.5 469.4 615.8 478.5 C615.0 488.6 613.8 492.6 613.3 502.8 C612.8 512.9 613.4 516.9 613.3 527.0 C613.2 540.2 611.7 545.5 612.9 558.7 C613.7 567.6 615.7 570.8 618.1 579.4 C621.1 590.2 622.7 594.4 625.8 605.2 C628.3 613.8 631.4 626.0 631.4 626.0" fill="none" stroke="#1c1412" stroke-width="2.2"/>
<path d="M776.0 412.0 C776.0 412.0 783.0 416.0 783.0 416.0" fill="none" stroke="#2a1a14" stroke-width="1.0"/>
<path d="M783.5 412.0 C783.5 412.0 790.5 416.0 790.5 416.0" fill="none" stroke="#2a1a14" stroke-width="1.0"/>
<path d="M791.0 412.0 C791.0 412.0 798.0 416.0 798.0 416.0" fill="none" stroke="#2a1a14" stroke-width="1.0"/>
<path d="M798.5 412.0 C798.5 412.0 805.5 416.0 805.5 416.0" fill="none" stroke="#2a1a14" stroke-width="1.0"/>
<path d="M806.0 412.0 C806.0 412.0 813.0 416.0 813.0 416.0" fill="none" stroke="#2a1a14" stroke-width="1.0"/>
<path d="M813.5 413.6 C813.5 413.6 820.5 417.6 820.5 417.6" fill="none" stroke="#2a1a14" stroke-width="1.0"/>
<path d="M821.0 416.4 C821.0 416.4 828.0 420.4 828.0 420.4" fill="none" stroke="#2a1a14" stroke-width="1.0"/>
<path d="M828.5 419.2 C828.5 419.2 835.5 423.2 835.5 423.2" fill="none" stroke="#2a1a14" stroke-width="1.0"/>
<path d="M836.0 422.0 C836.0 422.0 843.0 426.0 843.0 426.0" fill="none" stroke="#2a1a14" stroke-width="1.0"/>
<path d="M843.5 424.8 C843.5 424.8 850.5 428.8 850.5 428.8" fill="none" stroke="#2a1a14" stroke-width="1.0"/>
<path d="M870.0 500.0 C870.0 500.0 873.0 512.0 873.0 512.0" fill="none" stroke="#2a1a14" stroke-width="1.1"/>
<path d="M873.0 503.0 C873.0 503.0 876.5 516.0 876.5 516.0" fill="none" stroke="#2a1a14" stroke-width="1.1"/>
<path d="M876.0 508.0 C876.0 508.0 880.0 521.0 880.0 521.0" fill="none" stroke="#2a1a14" stroke-width="1.1"/>
<path d="M879.0 515.0 C879.0 515.0 883.5 527.0 883.5 527.0" fill="none" stroke="#2a1a14" stroke-width="1.1"/>
<path d="M882.0 523.0 C882.0 523.0 887.0 534.0 887.0 534.0" fill="none" stroke="#2a1a14" stroke-width="1.1"/>
<path d="M885.0 531.0 C885.0 531.0 891.0 541.0 891.0 541.0" fill="none" stroke="#2a1a14" stroke-width="1.1"/>
<path d="M868.0 470.0 C868.0 470.0 872.0 486.0 872.0 486.0" fill="none" stroke="#2a1a14" stroke-width="1.1"/>
<path d="M871.0 480.0 C871.0 480.0 875.0 498.0 875.0 498.0" fill="none" stroke="#2a1a14" stroke-width="1.1"/>
<path d="M864.0 455.0 C864.0 455.0 868.0 470.0 868.0 470.0" fill="none" stroke="#2a1a14" stroke-width="1.1"/>
<path d="M897.0 556.0 C897.0 556.0 906.0 560.0 906.0 560.0" fill="none" stroke="#2a1a14" stroke-width="1.1"/>
<path d="M905.0 561.0 C905.0 561.0 915.0 564.5 915.0 564.5" fill="none" stroke="#2a1a14" stroke-width="1.1"/>
<path d="M913.0 565.0 C913.0 565.0 924.0 568.0 924.0 568.0" fill="none" stroke="#2a1a14" stroke-width="1.1"/>
<path d="M921.0 569.0 C921.0 569.0 931.0 573.0 931.0 573.0" fill="none" stroke="#2a1a14" stroke-width="1.1"/>
<path d="M764.0 449.5 C764.0 449.5 770.0 454.0 770.0 454.0" fill="none" stroke="#2a1a14" stroke-width="1.0"/>
<path d="M768.5 449.8 C768.5 449.8 774.5 454.2 774.5 454.2" fill="none" stroke="#2a1a14" stroke-width="1.0"/>
<path d="M773.0 450.1 C773.0 450.1 779.0 454.4 779.0 454.4" fill="none" stroke="#2a1a14" stroke-width="1.0"/>
<path d="M777.5 450.4 C777.5 450.4 783.5 454.6 783.5 454.6" fill="none" stroke="#2a1a14" stroke-width="1.0"/>
<path d="M782.0 450.7 C782.0 450.7 788.0 454.8 788.0 454.8" fill="none" stroke="#2a1a14" stroke-width="1.0"/>
<path d="M786.5 451.0 C786.5 451.0 792.5 455.0 792.5 455.0" fill="none" stroke="#2a1a14" stroke-width="1.0"/>
<path d="M806.0 474.0 C806.0 474.0 812.0 471.5 812.0 471.5" fill="none" stroke="#2a1a14" stroke-width="0.9"/>
<path d="M812.0 471.8 C812.0 471.8 818.0 469.5 818.0 469.5" fill="none" stroke="#2a1a14" stroke-width="0.9"/>
<path d="M818.0 469.6 C818.0 469.6 824.0 467.5 824.0 467.5" fill="none" stroke="#2a1a14" stroke-width="0.9"/>
<path d="M824.0 467.4 C824.0 467.4 830.0 465.5 830.0 465.5" fill="none" stroke="#2a1a14" stroke-width="0.9"/>
<path d="M830.0 465.2 C830.0 465.2 836.0 463.5 836.0 463.5" fill="none" stroke="#2a1a14" stroke-width="0.9"/>
<path d="M756.0 494.0 C756.0 494.0 760.0 507.0 760.0 507.0" fill="none" stroke="#6b3f30" stroke-width="0.9"/>
<path d="M760.0 492.8 C760.0 492.8 764.0 505.4 764.0 505.4" fill="none" stroke="#6b3f30" stroke-width="0.9"/>
<path d="M764.0 491.6 C764.0 491.6 768.0 503.8 768.0 503.8" fill="none" stroke="#6b3f30" stroke-width="0.9"/>
<path d="M768.0 490.4 C768.0 490.4 772.0 502.2 772.0 502.2" fill="none" stroke="#6b3f30" stroke-width="0.9"/>
<path d="M772.0 489.2 C772.0 489.2 776.0 500.6 776.0 500.6" fill="none" stroke="#6b3f30" stroke-width="0.9"/>
<path d="M776.0 488.0 C776.0 488.0 780.0 499.0 780.0 499.0" fill="none" stroke="#6b3f30" stroke-width="0.9"/>
</g>
</svg></body></html>
